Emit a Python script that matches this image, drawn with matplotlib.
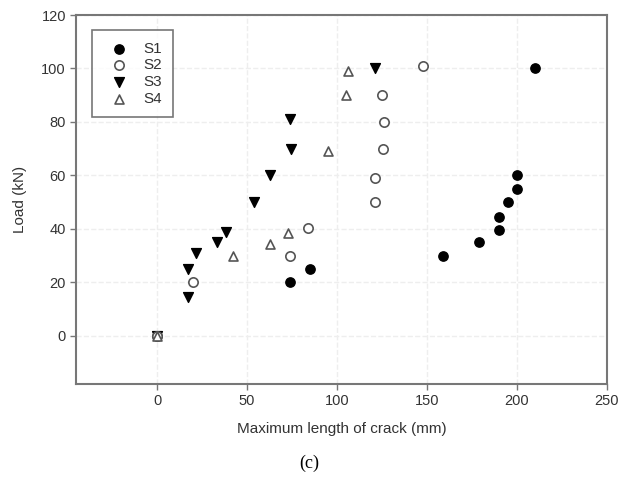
import matplotlib.pyplot as plt

# crack length (mm) vs load (kN)
s1_x = [0, 74, 85, 159, 179, 190, 190, 195, 200, 200, 210]
s1_y = [0, 20, 25, 30, 35, 39.5, 44.5, 50, 55, 60, 100]

s2_x = [0, 20, 74, 84, 121, 121, 125.5, 126, 125, 148]
s2_y = [0, 20, 30, 40.5, 50, 59, 70, 80, 90, 101]

s3_x = [0, 17, 17, 21.5, 33, 38, 54, 63, 74.5, 74, 121]
s3_y = [0, 14.5, 25, 31, 35, 39, 50, 60, 70, 81, 100]

s4_x = [0, 42, 63, 73, 95, 105, 106]
s4_y = [0, 30, 34.5, 38.5, 69, 90, 99]

x_ticks = [0, 50, 100, 150, 200, 250]
y_ticks = [0, 20, 40, 60, 80, 100, 120]

plt.rcParams['font.family'] = ['Liberation Sans', 'DejaVu Sans']

fig = plt.figure(figsize=(6.19, 4.97), dpi=100)
ax = fig.add_axes([0.1233, 0.2274, 0.8567, 0.7424])

grey = '#555555'
# S3 goes underneath so the open markers show on top at the origin
h3 = ax.scatter(s3_x, s3_y, marker='v', s=50, c='black', edgecolors='black', linewidths=1, label='S3', zorder=2)
h1 = ax.scatter(s1_x, s1_y, marker='o', s=45, c='black', edgecolors='black', linewidths=1, label='S1', zorder=3)
h2 = ax.scatter(s2_x, s2_y, marker='o', s=45, facecolors='white', edgecolors=grey, linewidths=1.2, label='S2', zorder=4)
h4 = ax.scatter(s4_x, s4_y, marker='^', s=42, facecolors='white', edgecolors=grey, linewidths=1.2, label='S4', zorder=5)

ax.set_xlim(-45, 250)
ax.set_ylim(-18, 120)
ax.set_xticks(x_ticks)
ax.set_yticks(y_ticks)
ax.grid(True, color='#eeeeee', linewidth=1, linestyle='--', zorder=0)

for sp in ax.spines.values():
    sp.set_color('#777777')
    sp.set_linewidth(1.5)
ax.tick_params(direction='out', length=4, width=1, color='#777777',
               labelsize=10.5, labelcolor='#333333')

ax.set_xlabel('Maximum length of crack (mm)', fontsize=11, color='#333333', labelpad=10)
ax.set_ylabel('Load (kN)', fontsize=11, color='#333333', labelpad=10)

leg = ax.legend([h1, h2, h3, h4], ['S1', 'S2', 'S3', 'S4'],
                loc='upper left', bbox_to_anchor=(0.0296, 0.959), frameon=True, fancybox=False,
                edgecolor='#555555', fontsize=11, handletextpad=0.6, borderpad=0.75,
                labelspacing=0.18, borderaxespad=0, handlelength=2.0)
leg.get_frame().set_linewidth(1.2)
for t in leg.get_texts():
    t.set_color('#333333')

fig.text(0.50, 0.068, '(c)', fontsize=13, family='Liberation Serif', ha='center', va='center')

fig.savefig('out.png', dpi=100)
